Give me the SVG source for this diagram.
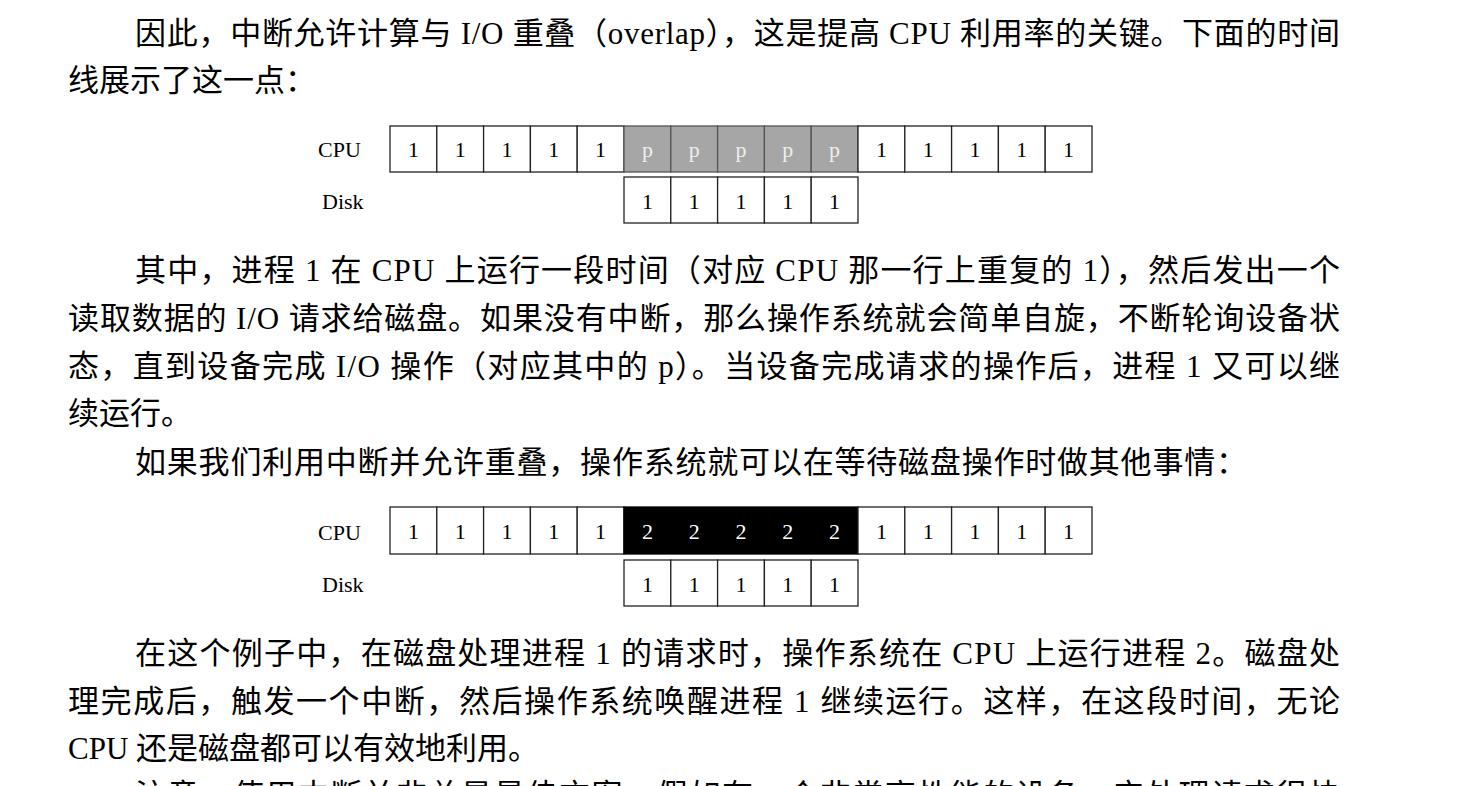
<svg xmlns="http://www.w3.org/2000/svg" width="1458" height="786" viewBox="0 0 1458 786">
<style>
.body{font-family:"Liberation Serif","Noto Sans CJK SC",serif;font-size:31px;fill:#000}
.lbl{font-family:"Liberation Serif",serif;font-size:22px;fill:#000}
.num{font-family:"Liberation Serif",serif;font-size:22px;text-anchor:middle;fill:#000}
.w{fill:#fff;stroke:#222;stroke-width:1.3}
.g{fill:#a6a6a6;stroke:#555;stroke-width:1.3}
.b{fill:#000;stroke:#000;stroke-width:1.3}
.pt{fill:#eeeeee}
.wt{fill:#fff}
</style>
<rect width="1458" height="786" fill="#fff"/>

<g id="text">
<text class="body" x="135" y="44" textLength="1205" lengthAdjust="spacing">因此，中断允许计算与 I/O 重叠（overlap），这是提高 CPU 利用率的关键。下面的时间</text>
<text class="body" x="68" y="91">线展示了这一点：</text>
<text class="body" x="135" y="281" textLength="1205" lengthAdjust="spacing">其中，进程 1 在 CPU 上运行一段时间（对应 CPU 那一行上重复的 1），然后发出一个</text>
<text class="body" x="68" y="329" textLength="1272" lengthAdjust="spacing">读取数据的 I/O 请求给磁盘。如果没有中断，那么操作系统就会简单自旋，不断轮询设备状</text>
<text class="body" x="68" y="377" textLength="1272" lengthAdjust="spacing">态，直到设备完成 I/O 操作（对应其中的 p）。当设备完成请求的操作后，进程 1 又可以继</text>
<text class="body" x="68" y="424">续运行。</text>
<text class="body" x="135" y="473" textLength="1112" lengthAdjust="spacing">如果我们利用中断并允许重叠，操作系统就可以在等待磁盘操作时做其他事情：</text>
<text class="body" x="135" y="664" textLength="1205" lengthAdjust="spacing">在这个例子中，在磁盘处理进程 1 的请求时，操作系统在 CPU 上运行进程 2。磁盘处</text>
<text class="body" x="68" y="712" textLength="1272" lengthAdjust="spacing">理完成后，触发一个中断，然后操作系统唤醒进程 1 继续运行。这样，在这段时间，无论</text>
<text class="body" x="68" y="759">CPU 还是磁盘都可以有效地利用。</text>
<text class="body" x="135" y="806" textLength="1205" lengthAdjust="spacing">注意，使用中断并非总是最佳方案。假如有一个非常高性能的设备，它处理请求很快</text>
</g>

<g id="timeline1">
<text class="lbl" x="318" y="157">CPU</text>
<text class="lbl" x="322" y="209">Disk</text>
<g id="t1-cpu">
<rect class="w" x="390" y="126" width="46.8" height="46"/><text class="num" x="413.4" y="157">1</text>
<rect class="w" x="436.8" y="126" width="46.8" height="46"/><text class="num" x="460.2" y="157">1</text>
<rect class="w" x="483.6" y="126" width="46.8" height="46"/><text class="num" x="507" y="157">1</text>
<rect class="w" x="530.4" y="126" width="46.8" height="46"/><text class="num" x="553.8" y="157">1</text>
<rect class="w" x="577.2" y="126" width="46.8" height="46"/><text class="num" x="600.6" y="157">1</text>
<rect class="g" x="624" y="126" width="46.8" height="46"/><text class="num pt" x="647.4" y="157">p</text>
<rect class="g" x="670.8" y="126" width="46.8" height="46"/><text class="num pt" x="694.2" y="157">p</text>
<rect class="g" x="717.6" y="126" width="46.8" height="46"/><text class="num pt" x="741" y="157">p</text>
<rect class="g" x="764.4" y="126" width="46.8" height="46"/><text class="num pt" x="787.8" y="157">p</text>
<rect class="g" x="811.2" y="126" width="46.8" height="46"/><text class="num pt" x="834.6" y="157">p</text>
<rect class="w" x="858" y="126" width="46.8" height="46"/><text class="num" x="881.4" y="157">1</text>
<rect class="w" x="904.8" y="126" width="46.8" height="46"/><text class="num" x="928.2" y="157">1</text>
<rect class="w" x="951.6" y="126" width="46.8" height="46"/><text class="num" x="975" y="157">1</text>
<rect class="w" x="998.4" y="126" width="46.8" height="46"/><text class="num" x="1021.8" y="157">1</text>
<rect class="w" x="1045.2" y="126" width="46.8" height="46"/><text class="num" x="1068.6" y="157">1</text>
</g>
<g id="t1-disk">
<rect class="w" x="624" y="177" width="46.8" height="46"/><text class="num" x="647.4" y="209">1</text>
<rect class="w" x="670.8" y="177" width="46.8" height="46"/><text class="num" x="694.2" y="209">1</text>
<rect class="w" x="717.6" y="177" width="46.8" height="46"/><text class="num" x="741" y="209">1</text>
<rect class="w" x="764.4" y="177" width="46.8" height="46"/><text class="num" x="787.8" y="209">1</text>
<rect class="w" x="811.2" y="177" width="46.8" height="46"/><text class="num" x="834.6" y="209">1</text>
</g>
</g>

<g id="timeline2">
<text class="lbl" x="318" y="540">CPU</text>
<text class="lbl" x="322" y="592">Disk</text>
<g id="t2-cpu">
<rect class="w" x="390" y="507" width="46.8" height="47"/><text class="num" x="413.4" y="539">1</text>
<rect class="w" x="436.8" y="507" width="46.8" height="47"/><text class="num" x="460.2" y="539">1</text>
<rect class="w" x="483.6" y="507" width="46.8" height="47"/><text class="num" x="507" y="539">1</text>
<rect class="w" x="530.4" y="507" width="46.8" height="47"/><text class="num" x="553.8" y="539">1</text>
<rect class="w" x="577.2" y="507" width="46.8" height="47"/><text class="num" x="600.6" y="539">1</text>
<rect class="b" x="624" y="507" width="234" height="47"/>
<text class="num wt" x="647.4" y="539">2</text>
<text class="num wt" x="694.2" y="539">2</text>
<text class="num wt" x="741" y="539">2</text>
<text class="num wt" x="787.8" y="539">2</text>
<text class="num wt" x="834.6" y="539">2</text>
<rect class="w" x="858" y="507" width="46.8" height="47"/><text class="num" x="881.4" y="539">1</text>
<rect class="w" x="904.8" y="507" width="46.8" height="47"/><text class="num" x="928.2" y="539">1</text>
<rect class="w" x="951.6" y="507" width="46.8" height="47"/><text class="num" x="975" y="539">1</text>
<rect class="w" x="998.4" y="507" width="46.8" height="47"/><text class="num" x="1021.8" y="539">1</text>
<rect class="w" x="1045.2" y="507" width="46.8" height="47"/><text class="num" x="1068.6" y="539">1</text>
</g>
<g id="t2-disk">
<rect class="w" x="624" y="560" width="46.8" height="46"/><text class="num" x="647.4" y="592">1</text>
<rect class="w" x="670.8" y="560" width="46.8" height="46"/><text class="num" x="694.2" y="592">1</text>
<rect class="w" x="717.6" y="560" width="46.8" height="46"/><text class="num" x="741" y="592">1</text>
<rect class="w" x="764.4" y="560" width="46.8" height="46"/><text class="num" x="787.8" y="592">1</text>
<rect class="w" x="811.2" y="560" width="46.8" height="46"/><text class="num" x="834.6" y="592">1</text>
</g>
</g>
<g id="connectors"/>
</svg>
